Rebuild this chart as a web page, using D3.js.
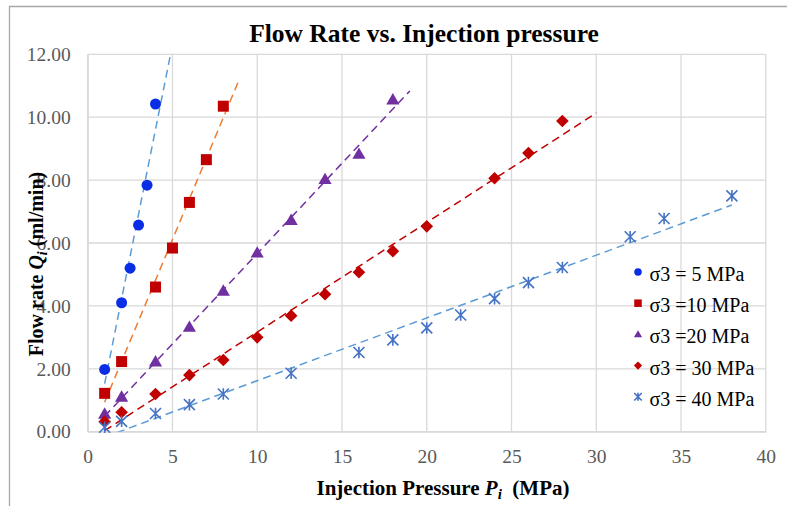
<!DOCTYPE html>
<html><head><meta charset="utf-8">
<script src="https://cdn.jsdelivr.net/npm/d3@7"></script>
<style>html,body{margin:0;padding:0;background:#fff;} svg{display:block;}</style>
</head><body>
<svg id="chart" width="787" height="506"></svg>
<script>
// ---- data ----
const seriesNames = ["σ3 = 5 MPa", "σ3 =10 MPa", "σ3 =20 MPa", "σ3 = 30 MPa", "σ3 = 40 MPa"];
const s5x = [1, 2, 2.5, 3, 3.5, 4];
const s5y = [1.98, 4.1, 5.2, 6.57, 7.84, 10.42];
const s10x = [1, 2, 4, 5, 6, 7, 8];
const s10y = [1.22, 2.23, 4.6, 5.84, 7.29, 8.65, 10.35];
const s20x = [1, 2, 4, 6, 8, 10, 12, 14, 16, 18];
const s20y = [0.56, 1.1, 2.22, 3.32, 4.47, 5.68, 6.72, 8.02, 8.82, 10.55];
const s30x = [1, 2, 4, 6, 8, 10, 12, 14, 16, 18, 20, 24, 26, 28];
const s30y = [0.32, 0.62, 1.2, 1.8, 2.28, 3.0, 3.69, 4.37, 5.07, 5.74, 6.53, 8.06, 8.86, 9.88];
const s40x = [1, 2, 4, 6, 8, 12, 16, 18, 20, 22, 24, 26, 28, 32, 34, 38];
const s40y = [0.14, 0.33, 0.58, 0.86, 1.2, 1.86, 2.52, 2.92, 3.3, 3.71, 4.23, 4.74, 5.22, 6.2, 6.78, 7.5];
// trendline x extents (start, end)
const trendStart = [1, 1, 1, 1, 1];
const trendEnd = [4.86, 8.94, 19, 30, 38];
const xTicks = [0, 5, 10, 15, 20, 25, 30, 35, 40];
const yTicks = [0, 2, 4, 6, 8, 10, 12];

const markerColors = ["#0a2ee6", "#c00000", "#7030a0", "#c00000", "#4472c4"];
const trendColors = ["#5b9bd5", "#ed7d31", "#7030a0", "#c00000", "#5b9bd5"];
const markerShapes = ["circle", "square", "triangle", "diamond", "asterisk"];

const xs = [s5x, s10x, s20x, s30x, s40x];
const ys = [s5y, s10y, s20y, s30y, s40y];

// ---- layout ----
const svg = d3.select("#chart");
const L = 87.7, R = 765.8, T = 54.3, B = 431.7;
const x = d3.scaleLinear().domain([0, 40]).range([L, R]);
const y = d3.scaleLinear().domain([0, 12]).range([B, T]);
const serif = "'Liberation Serif','Times New Roman',serif";

// outer chart border (top and left visible)
svg.append("path").attr("d", "M9.5,507 L9.5,6.5 L790,6.5")
  .attr("fill", "none").attr("stroke", "#a6a6a6").attr("stroke-width", 1.3);

// gridlines
const grid = svg.append("g");
grid.selectAll(".gx").data(xTicks).join("line")
  .attr("x1", d => x(d)).attr("x2", d => x(d)).attr("y1", T).attr("y2", B)
  .attr("stroke", "#d9d9d9").attr("stroke-width", 1.3);
grid.selectAll(".gy").data(yTicks).join("line")
  .attr("x1", L).attr("x2", R).attr("y1", d => y(d)).attr("y2", d => y(d))
  .attr("stroke", "#d9d9d9").attr("stroke-width", 1.3);

// axes (tick labels)
const xAxis = svg.append("g").attr("transform", `translate(0,${B})`)
  .call(d3.axisBottom(x).tickValues(xTicks).tickSize(0).tickPadding(17).tickFormat(d3.format("d")));
xAxis.select(".domain").attr("stroke", "#d9d9d9").attr("stroke-width", 1.3);
xAxis.selectAll("text").attr("font-family", serif).attr("font-size", 19.5).attr("fill", "#595959");

const yAxis = svg.append("g").attr("transform", `translate(${L},0)`)
  .call(d3.axisLeft(y).tickValues(yTicks).tickSize(0).tickPadding(17).tickFormat(d3.format(".2f")));
yAxis.select(".domain").attr("stroke", "#d9d9d9").attr("stroke-width", 1.3);
yAxis.selectAll("text").attr("font-family", serif).attr("font-size", 19.5).attr("fill", "#595959");

// clip
svg.append("clipPath").attr("id", "clip").append("rect")
  .attr("x", L).attr("y", T).attr("width", R - L).attr("height", B - T);

// trendlines (least squares)
function fit(xa, ya) {
  const mx = d3.mean(xa), my = d3.mean(ya);
  let sxy = 0, sxx = 0;
  xa.forEach((v, i) => { sxy += (v - mx) * (ya[i] - my); sxx += (v - mx) * (v - mx); });
  const m = sxy / sxx;
  return { m, b: my - m * mx };
}
const trendG = svg.append("g").attr("clip-path", "url(#clip)");
xs.forEach((xa, i) => {
  const f = fit(xa, ys[i]);
  const x0 = trendStart[i], x1 = trendEnd[i];
  trendG.append("line")
    .attr("x1", x(x0)).attr("y1", y(f.m * x0 + f.b))
    .attr("x2", x(x1)).attr("y2", y(f.m * x1 + f.b))
    .attr("stroke", trendColors[i]).attr("stroke-width", 1.5)
    .attr("stroke-dasharray", "8,5");
});

// markers
function drawMarker(g, shape, color, cx, cy, s) {
  if (shape === "circle") {
    g.append("circle").attr("cx", cx).attr("cy", cy).attr("r", s * 0.5).attr("fill", color);
  } else if (shape === "square") {
    g.append("rect").attr("x", cx - s * 0.5).attr("y", cy - s * 0.5).attr("width", s).attr("height", s).attr("fill", color);
  } else if (shape === "triangle") {
    const h = s * 0.95, w = s * 1.1;
    g.append("path").attr("d", `M${cx},${cy - h * 0.6} L${cx + w / 2},${cy + h * 0.4} L${cx - w / 2},${cy + h * 0.4} Z`).attr("fill", color);
  } else if (shape === "diamond") {
    const r = s * 0.55;
    g.append("path").attr("d", `M${cx},${cy - r} L${cx + r},${cy} L${cx},${cy + r} L${cx - r},${cy} Z`).attr("fill", color);
  } else if (shape === "asterisk") {
    const r = s * 0.5;
    g.append("path").attr("d",
      `M${cx - r},${cy - r} L${cx + r},${cy + r} M${cx - r},${cy + r} L${cx + r},${cy - r} M${cx},${cy - r * 1.05} L${cx},${cy + r * 1.05}`)
      .attr("stroke", color).attr("stroke-width", 1.6).attr("fill", "none");
  }
}
const markG = svg.append("g");
const sizes = [11, 11, 12, 11.5, 11];
xs.forEach((xa, i) => {
  xa.forEach((v, j) => drawMarker(markG, markerShapes[i], markerColors[i], x(v), y(ys[i][j]), sizes[i]));
});

// legend
const legend = svg.append("g");
const legendY0 = 273, legendDy = 31.2;
seriesNames.forEach((name, i) => {
  const ly = legendY0 + i * legendDy;
  drawMarker(legend, markerShapes[i], markerColors[i], 638, ly - 1, 7.5);
  legend.append("text").attr("x", 649.5).attr("y", ly + 8).text(name)
    .attr("font-family", serif).attr("font-size", 20).attr("fill", "#000");
});

// title
svg.append("text").attr("x", 424).attr("y", 42).attr("text-anchor", "middle")
  .attr("font-family", serif).attr("font-size", 25.5).attr("font-weight", "bold")
  .text("Flow Rate vs. Injection pressure");

// x axis title
const xt = svg.append("text").attr("x", 443).attr("y", 495).attr("text-anchor", "middle")
  .attr("font-family", serif).attr("font-size", 21).attr("font-weight", "bold")
  .attr("xml:space", "preserve").style("white-space", "pre");
xt.append("tspan").text("Injection Pressure ");
xt.append("tspan").attr("font-style", "italic").text("P");
xt.append("tspan").attr("font-style", "italic").attr("font-size", 15).attr("dy", 4).text("i");
xt.append("tspan").attr("dy", -4).text("  (MPa)");

// y axis title
const yt = svg.append("text").attr("transform", "translate(43,264) rotate(-90)").attr("text-anchor", "middle")
  .attr("font-family", serif).attr("font-size", 20).attr("font-weight", "bold");
yt.append("tspan").text("Flow rate ");
yt.append("tspan").attr("font-style", "italic").text("Q");
yt.append("tspan").attr("font-style", "italic").attr("font-size", 14).attr("dy", 4).text("i");
yt.append("tspan").attr("dy", -4).text(" (ml/min)");
</script>
</body></html>
